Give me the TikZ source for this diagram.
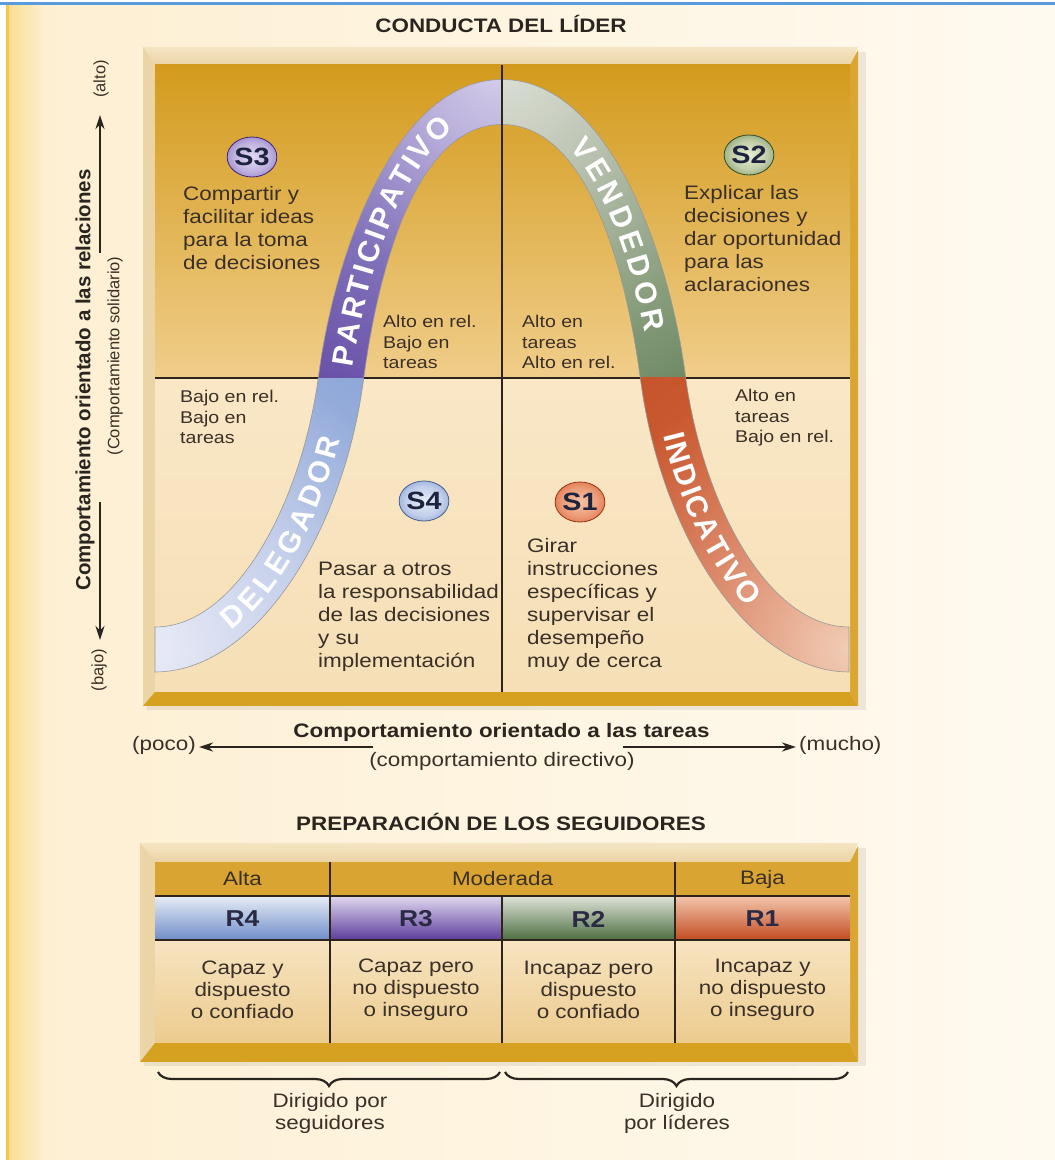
\documentclass[tikz,border=0pt]{standalone}
\usepackage{fontspec}
\setmainfont{Liberation Sans}[FakeStretch=1.15]
\newfontfamily\rotfont{Liberation Sans}
\usetikzlibrary{arrows.meta,decorations.text,decorations.pathreplacing,shapes.geometric}

\definecolor{txt}{HTML}{3A3027}
\definecolor{ttl}{HTML}{2B2520}
\definecolor{bgL}{HTML}{FDEFD2}
\definecolor{bgR}{HTML}{FFFAF0}
\definecolor{edgegold}{HTML}{F2C94C}
\definecolor{edgesoft}{HTML}{F9DE92}
\definecolor{bluel}{HTML}{5A9BDD}
\definecolor{goldtop}{HTML}{D39B1D}
\definecolor{goldmid}{HTML}{F0CD8A}
\definecolor{creamA}{HTML}{F9E7C6}
\definecolor{creamB}{HTML}{F6DFB6}
\definecolor{bevA}{HTML}{F5E5C2}
\definecolor{bevB}{HTML}{EBD4A6}
\definecolor{goldbar}{HTML}{D6A020}
\definecolor{goldside}{HTML}{DAA632}
\definecolor{rowgold}{HTML}{D9A431}
\definecolor{cellA}{HTML}{F7E4C1}
\definecolor{cellB}{HTML}{ECCB8E}
\definecolor{divc}{HTML}{2E241C}
\definecolor{ballt}{HTML}{1E2440}
\definecolor{rtxt}{HTML}{2A2A44}
% band colours
\definecolor{paA}{HTML}{D6D0EA}\definecolor{paB}{HTML}{BCB2DD}\definecolor{paC}{HTML}{8272BA}
\definecolor{paD}{HTML}{5C40A0}\definecolor{paE}{HTML}{4E2E8C}
\definecolor{veA}{HTML}{DCE0D6}\definecolor{veB}{HTML}{C8CEC0}\definecolor{veC}{HTML}{B2BCA8}
\definecolor{veD}{HTML}{849A78}\definecolor{veE}{HTML}{587650}\definecolor{veF}{HTML}{466636}
\definecolor{deA}{HTML}{E8EAF6}\definecolor{deB}{HTML}{C4CFEA}\definecolor{deC}{HTML}{94ABDA}
\definecolor{deD}{HTML}{7D9CD0}\definecolor{deE}{HTML}{7090C8}
\definecolor{inA}{HTML}{F2CDB6}\definecolor{inB}{HTML}{DA8566}\definecolor{inC}{HTML}{C9582F}
\definecolor{inD}{HTML}{C04A24}\definecolor{inE}{HTML}{B84020}
% ball colours
\definecolor{pA}{HTML}{E2DAF2}\definecolor{pB}{HTML}{8C78C4}\definecolor{pC}{HTML}{432476}
\definecolor{gA}{HTML}{EAEFD2}\definecolor{gB}{HTML}{7E9A68}\definecolor{gC}{HTML}{2F4E26}
\definecolor{bA}{HTML}{E8EEF9}\definecolor{bB}{HTML}{8AA2D4}\definecolor{bC}{HTML}{46628F}
\definecolor{oA}{HTML}{F8C4A4}\definecolor{oB}{HTML}{DC6A40}\definecolor{oC}{HTML}{9A3212}
% table row colours
\definecolor{rBt}{HTML}{E8ECF7}\definecolor{rBb}{HTML}{6E8EC8}
\definecolor{rPt}{HTML}{E0D8EF}\definecolor{rPb}{HTML}{5C3C9C}
\definecolor{rGt}{HTML}{DEE3D8}\definecolor{rGb}{HTML}{4E6E42}
\definecolor{rOt}{HTML}{F3C6AC}\definecolor{rOb}{HTML}{C24C22}

\pgfdeclareradialshading{shPart}{\pgfpointorigin}{color(0bp)=(paA); color(5bp)=(paB); color(14bp)=(paC); color(27bp)=(paD); color(40bp)=(paE); color(50bp)=(paE)}
\pgfdeclareradialshading{shVend}{\pgfpointorigin}{color(0bp)=(veA); color(5bp)=(veB); color(9bp)=(veC); color(18bp)=(veD); color(28bp)=(veE); color(39bp)=(veF); color(50bp)=(veF)}
\pgfdeclareradialshading{shDele}{\pgfpointorigin}{color(0bp)=(deA); color(10bp)=(deB); color(19bp)=(deC); color(30bp)=(deD); color(40bp)=(deE); color(50bp)=(deE)}
\pgfdeclareradialshading{shIndi}{\pgfpointorigin}{color(0bp)=(inA); color(10bp)=(inB); color(18bp)=(inC); color(30bp)=(inD); color(39bp)=(inE); color(50bp)=(inE)}
\pgfdeclareradialshading{ballP}{\pgfpointorigin}{color(0bp)=(pA); color(18bp)=(pA!60!pB); color(32bp)=(pB); color(43bp)=(pC); color(50bp)=(pC)}
\pgfdeclareradialshading{ballG}{\pgfpointorigin}{color(0bp)=(gA); color(18bp)=(gA!60!gB); color(32bp)=(gB); color(43bp)=(gC); color(50bp)=(gC)}
\pgfdeclareradialshading{ballB}{\pgfpointorigin}{color(0bp)=(bA); color(18bp)=(bA!60!bB); color(32bp)=(bB); color(43bp)=(bC); color(50bp)=(bC)}
\pgfdeclareradialshading{ballO}{\pgfpointorigin}{color(0bp)=(oA); color(18bp)=(oA!55!oB); color(32bp)=(oB); color(43bp)=(oC); color(50bp)=(oC)}

\def\bandpath{(155,533) .. controls (236,533) and (301.7,657) .. (318.7,785) .. controls (335.1,909.3) and (396.4,1080.5) .. (502,1080.5) .. controls (607.6,1080.5) and (668.9,909.3) .. (685.3,785) .. controls (702.3,657) and (768,533) .. (849,533) -- (849,488) .. controls (750,488) and (661.7,623) .. (640.7,779) .. controls (627,882.7) and (590.4,1035.5) .. (502,1035.5) .. controls (413.6,1035.5) and (377,882.7) .. (363.3,779) .. controls (342.3,623) and (254,488) .. (155,488) -- cycle}

\newcommand{\bandfont}{\rotfont\bfseries\fontsize{30}{30}\selectfont}

\begin{document}
\begin{tikzpicture}[x=1pt,y=1pt,
  body/.style={font=\fontsize{19.5}{23}\selectfont, text=txt, align=left, inner sep=0pt, anchor=north west},
  small/.style={font=\fontsize{17}{20.5}\selectfont, text=txt, align=left, inner sep=0pt, anchor=north west},
  heading/.style={font=\bfseries\fontsize{19.5}{23}\selectfont, text=ttl, inner sep=0pt},
  axislbl/.style={font=\fontsize{19.5}{23}\selectfont, text=txt, inner sep=0pt},
  vlbl/.style={font=\rotfont\fontsize{16.5}{20}\selectfont, text=txt, inner sep=0pt, rotate=90},
  axisarrow/.style={line width=2.6pt, draw=ttl, -{Stealth[length=14pt,width=9pt]}},
  ball/.style={ellipse, minimum width=48pt, minimum height=40pt, inner sep=0pt, shade, line width=0.8pt, font=\bfseries\fontsize{25}{25}\selectfont, text=ballt},
  cellhead/.style={font=\fontsize{19.5}{23}\selectfont, text=txt, inner sep=0pt},
  rlbl/.style={font=\bfseries\fontsize{23}{23}\selectfont, text=rtxt, inner sep=0pt},
  celltxt/.style={font=\fontsize{19.5}{22}\selectfont, text=txt, align=center, inner sep=0pt},
  divline/.style={line width=1.3pt, draw=divc},
  bandtxt/.style n args={3}{decorate, decoration={text along path, text={|\bandfont|#1}, text color=white, text align={left indent=#2, right indent=#3, fit to path}, raise=-10.5pt}}
]
\useasboundingbox (0,0) rectangle (1055,1160);
% ---------- page background ----------
\fill[white] (0,0) rectangle (1055,1160);
\shade[left color=bgL, right color=bgR] (9,0) rectangle (1055,1155);
\shade[left color=edgesoft, right color=bgL] (9,0) rectangle (45,1155);
\fill[edgegold] (6,0) rectangle (9,1155);
\fill[bluel] (0,1155) rectangle (1055,1157.5);

% ---------- title ----------
\node[heading] (title) at (501,1136) {CONDUCTA DEL LÍDER};

% ---------- main panel ----------
\fill[black, opacity=0.07] (147,450) rectangle (866,1108);
\shade[top color=bevA, bottom color=bevB] (143,1113) -- (858,1113) -- (850,1095) -- (155,1095) -- cycle;
\fill[bevB] (143,1113) -- (155,1095) -- (155,468) -- (143,454) -- cycle;
\fill[goldbar] (143,454) -- (155,468) -- (850,468) -- (858,454) -- cycle;
\fill[goldside] (858,1110) -- (850,1095) -- (850,468) -- (858,454) -- cycle;
\shade[top color=goldtop, bottom color=goldmid] (155,782) rectangle (850,1095);
\shade[top color=creamA, bottom color=creamB] (155,468) rectangle (850,782);

\coordinate (hL) at (155,782);
\coordinate (hR) at (850,782);
\draw[divline] (hL) -- (hR);

% ---------- band ----------
\begin{scope}
  \clip \bandpath;
  \begin{scope}
    \clip (155,468) rectangle (502,782);
    \shade[shading=shDele] (155,511) circle (400);
  \end{scope}
  \begin{scope}
    \clip (155,782) rectangle (502,1095);
    \shade[shading=shPart] (502,1095) circle (400);
  \end{scope}
  \begin{scope}
    \clip (502,782) rectangle (850,1095);
    \shade[shading=shVend] (502,1095) circle (400);
  \end{scope}
  \begin{scope}
    \clip (502,468) rectangle (850,782);
    \shade[shading=shIndi] (849,511) circle (400);
  \end{scope}
\end{scope}
\draw[black!40, line width=0.6pt] \bandpath;

\coordinate (vT) at (502,1095);
\coordinate (vB) at (502,468);
\draw[divline] (vT) -- (vB);

% band words
\path[bandtxt={DELEGADOR}{76pt}{60pt}] (155,511) .. controls (245,511) and (322,640) .. (341,782);
\path[bandtxt={PARTICIPATIVO}{12pt}{60pt}] (341,782) .. controls (356,896) and (405,1058) .. (502,1058);
\path[bandtxt={VENDEDOR}{88pt}{48pt}] (502,1058) .. controls (599,1058) and (648,896) .. (663,782);
\path[bandtxt={INDICATIVO}{56pt}{108pt}] (663,782) .. controls (682,640) and (759,511) .. (849,511);

% ---------- balls and texts ----------
\node[ball, shading=ballP, draw=pC] (s3) at (252,1003) {S3};
\node[ball, shading=ballG, draw=gC] (s2) at (749,1005) {S2};
\node[ball, shading=ballB, draw=bC] (s4) at (424,659) {S4};
\node[ball, shading=ballO, draw=oC] (s1) at (580,658) {S1};

\node[body] (t3) at (183,974) {Compartir y\\facilitar ideas\\para la toma\\de decisiones};
\node[body] (t2) at (684,975) {Explicar las\\decisiones y\\dar oportunidad\\para las\\aclaraciones};
\node[body] (t4) at (318,598) {Pasar a otros\\la responsabilidad\\de las decisiones\\y su\\implementación};
\node[body] (t1) at (527,622) {Girar\\instrucciones\\específicas y\\supervisar el\\desempeño\\muy de cerca};

\node[small] (q2) at (383,845) {Alto en rel.\\Bajo en\\tareas};
\node[small] (q1) at (522,845) {Alto en\\tareas\\Alto en rel.};
\node[small] (q3) at (180,770) {Bajo en rel.\\Bajo en\\tareas};
\node[small] (q4) at (735,771) {Alto en\\tareas\\Bajo en rel.};

% ---------- axes ----------
\node[heading] (xtitle) at (501.5,428) {Comportamiento orientado a las tareas};
\node[axislbl] (xsub) at (502,399) {(comportamiento directivo)};
\node[axislbl, anchor=east] (poco) at (196,415) {(poco)};
\node[axislbl, anchor=west] (mucho) at (799,415) {(mucho)};
\coordinate (xl1) at (373,413);
\coordinate (xl2) at (199,413);
\coordinate (xr1) at (623,413);
\coordinate (xr2) at (796,413);
\draw[axisarrow] (xl1) -- (xl2);
\draw[axisarrow] (xr1) -- (xr2);

\node[font=\rotfont\bfseries\fontsize{20.5}{24}\selectfont, text=ttl, inner sep=0pt, rotate=90] (ytitle) at (85,780) {Comportamiento orientado a las relaciones};
\node[vlbl] (ysub) at (115,804) {(Comportamiento solidario)};
\node[vlbl] (alto) at (101,1081) {(alto)};
\node[vlbl] (bajo) at (99,490) {(bajo)};
\coordinate (yu1) at (100,907);
\coordinate (yu2) at (100,1045);
\coordinate (yd1) at (100,658);
\coordinate (yd2) at (100,520);
\draw[axisarrow] (yu1) -- (yu2);
\draw[axisarrow] (yd1) -- (yd2);

% ---------- followers table ----------
\node[heading] (ptitle) at (501,338) {PREPARACIÓN DE LOS SEGUIDORES};
\fill[black, opacity=0.07] (144,94) rectangle (866,312);
\shade[top color=bevA, bottom color=bevB] (140,317) -- (858,317) -- (850,298) -- (155,298) -- cycle;
\fill[bevB] (140,317) -- (155,298) -- (155,117) -- (140,98) -- cycle;
\fill[goldbar] (140,98) -- (155,117) -- (850,117) -- (858,98) -- cycle;
\fill[goldside] (858,314) -- (850,298) -- (850,117) -- (858,98) -- cycle;
\fill[rowgold] (155,264) rectangle (850,298);
\shade[top color=rBt, bottom color=rBb] (155,220) rectangle (330,264);
\shade[top color=rPt, bottom color=rPb] (330,220) rectangle (502,264);
\shade[top color=rGt, bottom color=rGb] (502,220) rectangle (675,264);
\shade[top color=rOt, bottom color=rOb] (675,220) rectangle (850,264);
\shade[top color=cellA, bottom color=cellB] (155,117) rectangle (850,220);

\coordinate (tl1) at (155,264); \coordinate (tr1) at (850,264);
\coordinate (tl2) at (155,220); \coordinate (tr2) at (850,220);
\coordinate (c1t) at (330,298); \coordinate (c1b) at (330,117);
\coordinate (c2t) at (502,264); \coordinate (c2b) at (502,117);
\coordinate (c3t) at (675,298); \coordinate (c3b) at (675,117);
\draw[divline] (tl1) -- (tr1);
\draw[divline] (tl2) -- (tr2);
\draw[divline] (c1t) -- (c1b);
\draw[divline] (c2t) -- (c2b);
\draw[divline] (c3t) -- (c3b);

\node[cellhead] (alta) at (242.5,281) {Alta};
\node[cellhead] (moderada) at (502.5,281) {Moderada};
\node[cellhead] (baja) at (762.5,281) {Baja};
\node[rlbl] (r4) at (242.5,241) {R4};
\node[rlbl] (r3) at (416,241) {R3};
\node[rlbl] (r2) at (588.5,241) {R2};
\node[rlbl] (r1) at (762.5,241) {R1};
\node[celltxt] (d4) at (242.5,170) {Capaz y\\dispuesto\\o confiado};
\node[celltxt] (d3) at (416,170) {Capaz pero\\no dispuesto\\o inseguro};
\node[celltxt] (d2) at (588.5,170) {Incapaz pero\\dispuesto\\o confiado};
\node[celltxt] (d1) at (762.5,170) {Incapaz y\\no dispuesto\\o inseguro};

% ---------- braces ----------
\coordinate (bl1) at (158,88); \coordinate (bl2) at (500,88);
\coordinate (br1) at (505,88); \coordinate (br2) at (848,88);
\draw[decorate, decoration={brace, mirror, amplitude=14pt}, line width=2.2pt, ttl] (bl1) -- (bl2);
\draw[decorate, decoration={brace, mirror, amplitude=14pt}, line width=2.2pt, ttl] (br1) -- (br2);
\node[celltxt] (dseg) at (330,47) {Dirigido por\\seguidores};
\node[celltxt] (dlid) at (677,47) {Dirigido\\por líderes};
\end{tikzpicture}
\end{document}
